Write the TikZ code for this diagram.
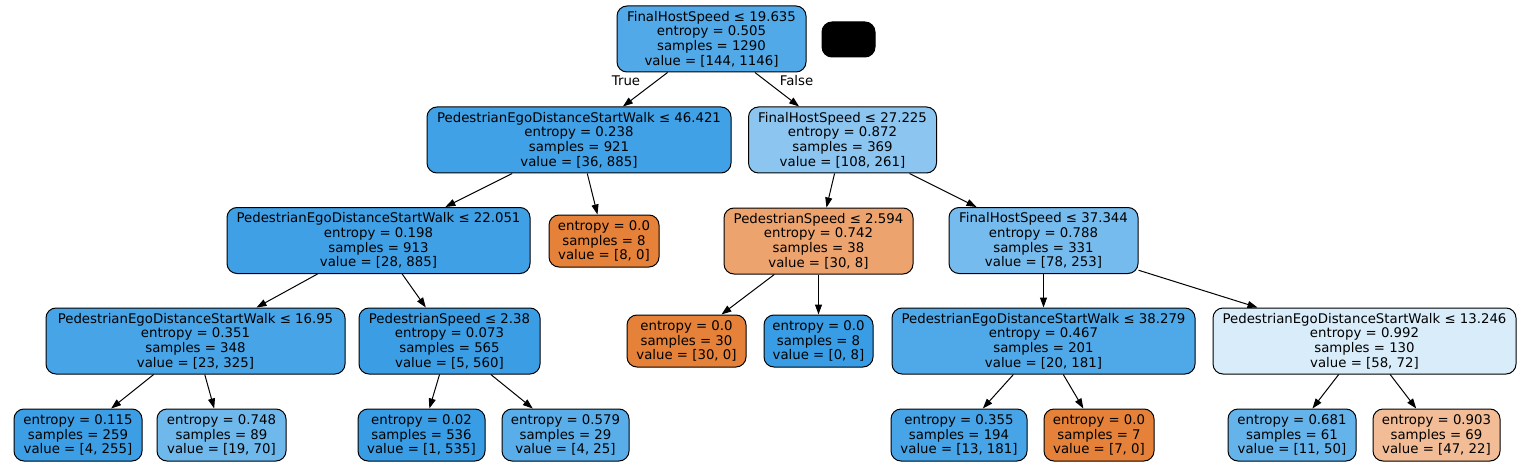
\documentclass[tikz,border=0pt]{standalone}
\usepackage{fontspec}
\setmainfont{DejaVu Sans}
\usetikzlibrary{arrows.meta}
\definecolor{croot}{RGB}{82,169,232}
\definecolor{cna}{RGB}{65,161,230}
\definecolor{cnb}{RGB}{139,197,240}
\definecolor{cnc}{RGB}{63,160,230}
\definecolor{corange}{RGB}{229,129,57}
\definecolor{cblue}{RGB}{57,157,229}
\definecolor{cne}{RGB}{236,163,110}
\definecolor{cnf}{RGB}{118,187,237}
\definecolor{cng}{RGB}{71,164,231}
\definecolor{cnh}{RGB}{59,158,229}
\definecolor{cnk}{RGB}{79,168,232}
\definecolor{cnl}{RGB}{216,236,250}
\definecolor{cla}{RGB}{60,159,229}
\definecolor{clb}{RGB}{111,184,236}
\definecolor{cld}{RGB}{89,173,233}
\definecolor{cle}{RGB}{71,164,231}
\definecolor{clg}{RGB}{101,179,235}
\definecolor{clh}{RGB}{241,188,150}
\begin{document}
\begin{tikzpicture}[x=1pt,y=-1pt,
  box/.style={draw=black, line width=1pt, rounded corners=10pt, align=center,
    inner xsep=0pt, inner ysep=0pt, font=\fontsize{13.3}{14.7}\selectfont},
  split/.style={box, minimum height=66pt},
  leaf/.style={box, minimum height=52pt},
  edgelbl/.style={font=\fontsize{13.3}{14.7}\selectfont, inner sep=0pt},
  conn/.style={line width=1pt, -{Triangle[length=10pt,width=7pt]}}]
\useasboundingbox (0,0) rectangle (1522,465);

% level 0
\node[split, fill=croot, minimum width=189pt] (root) at (711.5,39) {FinalHostSpeed ≤ 19.635\\entropy = 0.505\\samples = 1290\\value = [144, 1146]};
\node[draw=black, fill=black, line width=1pt, rounded corners=10pt, minimum width=53pt, minimum height=35pt, inner sep=0pt] (blk) at (848.5,39.5) {};

% level 1
\node[split, fill=cna, minimum width=304pt] (n1) at (579,140) {PedestrianEgoDistanceStartWalk ≤ 46.421\\entropy = 0.238\\samples = 921\\value = [36, 885]};
\node[split, fill=cnb, minimum width=188pt] (n2) at (842.5,140) {FinalHostSpeed ≤ 27.225\\entropy = 0.872\\samples = 369\\value = [108, 261]};

% level 2
\node[split, fill=cnc, minimum width=303pt] (n3) at (378.5,240.5) {PedestrianEgoDistanceStartWalk ≤ 22.051\\entropy = 0.198\\samples = 913\\value = [28, 885]};
\node[leaf, fill=corange, minimum width=110pt] (n4) at (604,241) {entropy = 0.0\\samples = 8\\value = [8, 0]};
\node[split, fill=cne, minimum width=189pt] (n5) at (818.5,241) {PedestrianSpeed ≤ 2.594\\entropy = 0.742\\samples = 38\\value = [30, 8]};
\node[split, fill=cnf, minimum width=189pt] (n6) at (1043.5,240.5) {FinalHostSpeed ≤ 37.344\\entropy = 0.788\\samples = 331\\value = [78, 253]};

% level 3
\node[split, fill=cng, minimum width=299pt] (n7) at (195.5,341) {PedestrianEgoDistanceStartWalk ≤ 16.95\\entropy = 0.351\\samples = 348\\value = [23, 325]};
\node[split, fill=cnh, minimum width=181pt] (n8) at (449.5,341) {PedestrianSpeed ≤ 2.38\\entropy = 0.073\\samples = 565\\value = [5, 560]};
\node[leaf, fill=corange, minimum width=119pt] (n9) at (686.5,341) {entropy = 0.0\\samples = 30\\value = [30, 0]};
\node[leaf, fill=cblue, minimum width=109pt] (n10) at (818.5,341) {entropy = 0.0\\samples = 8\\value = [0, 8]};
\node[split, fill=cnk, minimum width=303pt] (n11) at (1043.5,341) {PedestrianEgoDistanceStartWalk ≤ 38.279\\entropy = 0.467\\samples = 201\\value = [20, 181]};
\node[split, fill=cnl, minimum width=303pt] (n12) at (1364.5,341) {PedestrianEgoDistanceStartWalk ≤ 13.246\\entropy = 0.992\\samples = 130\\value = [58, 72]};

% level 4
\node[leaf, fill=cla, minimum width=128pt] (l1) at (78,435) {entropy = 0.115\\samples = 259\\value = [4, 255]};
\node[leaf, fill=clb, minimum width=129pt] (l2) at (221.5,435) {entropy = 0.748\\samples = 89\\value = [19, 70]};
\node[leaf, fill=cblue, minimum width=127pt] (l3) at (421.5,435) {entropy = 0.02\\samples = 536\\value = [1, 535]};
\node[leaf, fill=cld, minimum width=127pt] (l4) at (565.5,435) {entropy = 0.579\\samples = 29\\value = [4, 25]};
\node[leaf, fill=cle, minimum width=136pt] (l5) at (959,435) {entropy = 0.355\\samples = 194\\value = [13, 181]};
\node[leaf, fill=corange, minimum width=110pt] (l6) at (1099,435) {entropy = 0.0\\samples = 7\\value = [7, 0]};
\node[leaf, fill=clg, minimum width=128pt] (l7) at (1292,435) {entropy = 0.681\\samples = 61\\value = [11, 50]};
\node[leaf, fill=clh, minimum width=127pt] (l8) at (1436.5,435) {entropy = 0.903\\samples = 69\\value = [47, 22]};

% edge labels
\node[edgelbl] (ltrue) at (626,81) {True};
\node[edgelbl] (lfalse) at (796.5,81) {False};

% connectors
\draw[conn] (root) -- (n1);
\draw[conn] (root) -- (n2);
\draw[conn] (n1) -- (n3);
\draw[conn] (n1) -- (n4);
\draw[conn] (n2) -- (n5);
\draw[conn] (n2) -- (n6);
\draw[conn] (n3) -- (n7);
\draw[conn] (n3) -- (n8);
\draw[conn] (n5) -- (n9);
\draw[conn] (n5) -- (n10);
\draw[conn] (n6) -- (n11);
\draw[conn] (n6) -- (n12);
\draw[conn] (n7) -- (l1);
\draw[conn] (n7) -- (l2);
\draw[conn] (n8) -- (l3);
\draw[conn] (n8) -- (l4);
\draw[conn] (n11) -- (l5);
\draw[conn] (n11) -- (l6);
\draw[conn] (n12) -- (l7);
\draw[conn] (n12) -- (l8);
\end{tikzpicture}
\end{document}
